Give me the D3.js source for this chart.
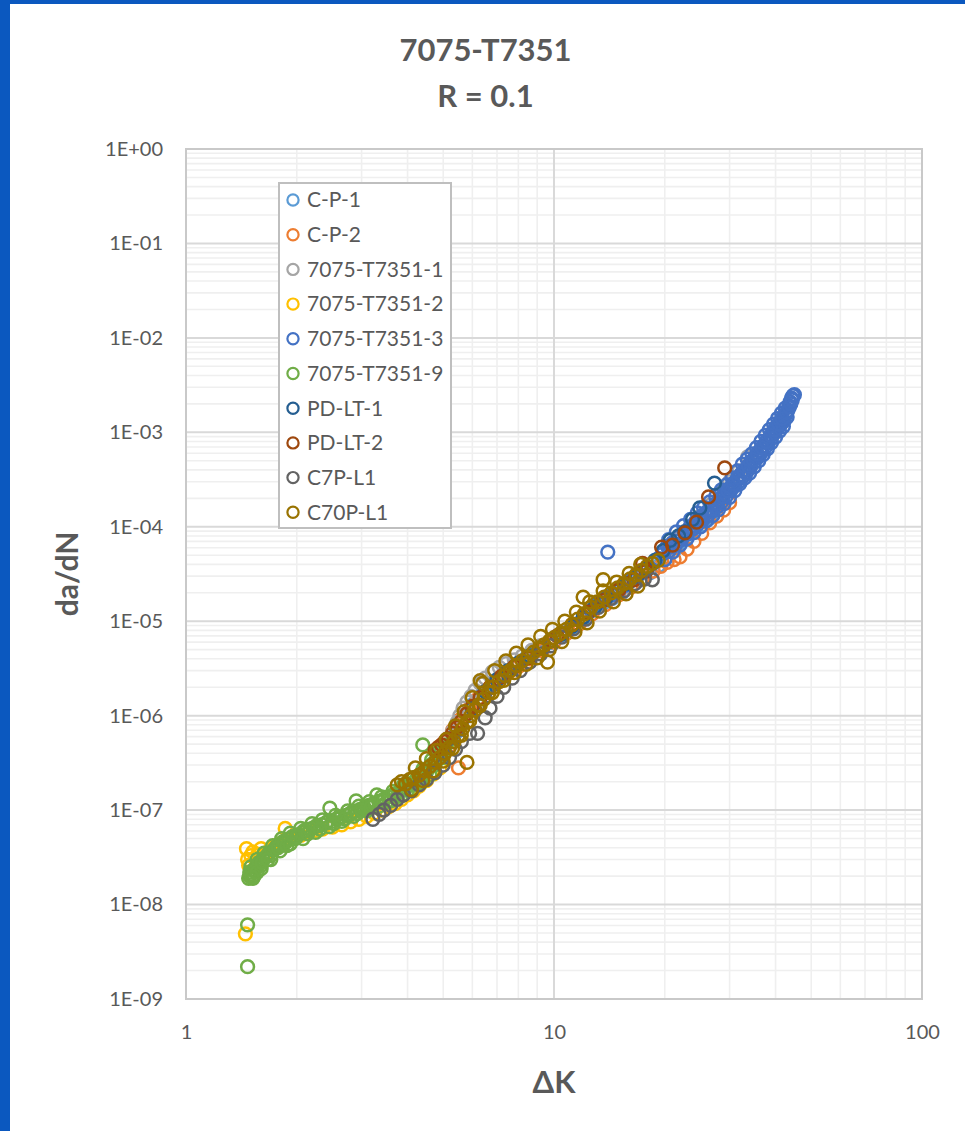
<!DOCTYPE html>
<html>
<head>
<meta charset="utf-8">
<script src="https://cdn.jsdelivr.net/npm/d3@7"></script>
<style>
  body { margin: 0; background: #ffffff; }
  svg { display: block; }
  text { font-family: Lato, "Open Sans", "Liberation Sans", sans-serif; }
</style>
</head>
<body>
<svg id="chart" width="965" height="1131"></svg>
<script>
// ---- Data: crack growth rate da/dN versus stress-intensity range ΔK ----
const seriesNames = ["C-P-1", "C-P-2", "7075-T7351-1", "7075-T7351-2", "7075-T7351-3",
                     "7075-T7351-9", "PD-LT-1", "PD-LT-2", "C7P-L1", "C70P-L1"];
const seriesColors = ["#5B9BD5", "#ED7D31", "#A5A5A5", "#FFC000", "#4472C4",
                      "#70AD47", "#255E91", "#9E480E", "#636363", "#997300"];

// [ΔK, da/dN]
const cp1 = [[5.4,6.5e-7],[5.7,9.5e-7],[6.0,1.3e-6],[6.4,1.7e-6],[6.8,2.2e-6],[7.3,2.8e-6],[7.8,3.4e-6],
  [8.4,4.1e-6],[9.0,4.9e-6],[9.7,5.9e-6],[10.4,7.1e-6],[11.2,8.6e-6],[12.0,1.05e-5],[12.8,1.3e-5],
  [13.6,1.55e-5],[14.4,1.75e-5],[15.3,2.0e-5],[16.2,2.35e-5],[17.2,2.75e-5],[18.2,3.25e-5],[19.3,3.9e-5],
  [20.4,4.8e-5],[21.6,6.0e-5],[22.8,7.3e-5],[24.0,8.8e-5],[25.3,1.05e-4],[26.6,1.25e-4]];

const cp2 = [[5.0,3.8e-7],[5.2,4.8e-7],[5.3,7.0e-7],[5.5,2.8e-7],[5.55,9.0e-7],[5.7,1.0e-6],[5.9,1.2e-6],
  [6.2,1.5e-6],[6.6,1.9e-6],[7.0,2.3e-6],[7.5,2.8e-6],[8.0,3.3e-6],[8.6,4.0e-6],[9.3,4.9e-6],[10.0,6.0e-6],
  [10.8,7.4e-6],[11.7,9.3e-6],[12.7,1.2e-5],[13.8,1.5e-5],[15.0,1.9e-5],[16.2,2.3e-5],[17.4,2.8e-5],
  [18.6,3.4e-5],[19.5,3.8e-5],[20.3,4.2e-5],[21.2,4.5e-5],[22.0,4.8e-5],[23.0,5.8e-5],[24.0,7.0e-5],
  [25.2,8.5e-5],[26.5,1.1e-4],[27.7,1.3e-4],[28.9,1.5e-4],[30.0,1.8e-4]];

const t7351_1 = [[5.3,6.8e-7],[5.45,8.5e-7],[5.55,1.0e-6],[5.66,1.2e-6],[5.8,1.4e-6],[5.95,1.6e-6],
  [6.1,1.85e-6],[6.3,2.2e-6],[6.5,2.5e-6],[6.8,2.9e-6],[7.1,3.25e-6],[7.4,3.55e-6],[7.8,3.9e-6],[8.2,4.3e-6],
  [8.7,4.9e-6],[9.2,5.5e-6],[9.8,6.4e-6],[10.5,7.6e-6],[11.3,9.3e-6],[12.2,1.2e-5],[13.2,1.5e-5],
  [14.3,1.85e-5],[15.5,2.3e-5],[16.8,2.85e-5],[18.0,3.6e-5],[19.3,4.6e-5],[20.6,6.0e-5],[22.0,7.8e-5],
  [23.5,1.0e-4],[25.0,1.3e-4],[26.6,1.7e-4],[28.3,2.3e-4],[30.0,3.0e-4],[31.8,3.9e-4],[33.6,5.5e-4]];

const t7351_2 = [[1.45,4.9e-9],[1.46,3.9e-8],[1.47,3.0e-8],[1.48,2.6e-8],[1.5,3.3e-8],[1.52,3.6e-8],
  [1.55,2.9e-8],[1.58,3.4e-8],[1.6,3.9e-8],[1.65,3.5e-8],[1.7,3.9e-8],[1.75,4.2e-8],[1.8,4.4e-8],
  [1.86,6.4e-8],[1.88,4.8e-8],[1.95,5.1e-8],[2.05,5.4e-8],[2.15,5.8e-8],[2.25,6.1e-8],[2.35,6.3e-8],
  [2.5,6.6e-8],[2.65,7.0e-8],[2.8,7.5e-8],[2.95,8.0e-8],[3.1,8.6e-8],[3.25,9.3e-8],[3.4,1.0e-7],
  [3.55,1.08e-7],[3.7,1.17e-7],[3.85,1.3e-7],[4.0,1.45e-7],[4.15,1.6e-7],[4.3,1.8e-7],[4.5,2.05e-7],
  [4.7,2.4e-7],[4.9,2.8e-7]];

const t7351_3 = [[12.0,1.1e-5],[12.6,1.3e-5],[13.2,1.55e-5],[13.8,1.8e-5],[14.0,5.4e-5],[14.4,1.9e-5],
  [15.0,2.1e-5],[15.6,2.4e-5],[16.2,2.7e-5],[16.8,3.0e-5],[17.4,3.3e-5],[18.0,3.7e-5],[18.6,4.1e-5],
  [19.2,4.6e-5],[19.8,5.2e-5],[20.3,6.2e-5],[20.6,5.6e-5],[21.0,6.8e-5],[21.4,6.4e-5],[21.8,7.8e-5],
  [22.2,7.3e-5],[22.6,8.8e-5],[23.0,8.3e-5],[23.4,9.9e-5],[23.8,9.4e-5],[24.2,1.12e-4],[24.6,1.06e-4],
  [25.0,1.26e-4],[25.4,1.19e-4],[25.8,1.4e-4],[26.2,1.32e-4],[26.6,1.55e-4],[27.0,1.47e-4],[27.4,1.72e-4],
  [27.8,1.63e-4],[28.2,1.95e-4],[28.6,1.85e-4],[29.0,2.2e-4],[29.4,2.1e-4],[29.8,2.5e-4],[30.2,2.4e-4],
  [30.6,2.85e-4],[31.0,2.7e-4],[31.4,3.2e-4],[31.8,3.0e-4],[32.2,3.6e-4],[32.6,3.4e-4],[33.0,4.0e-4],
  [33.4,3.8e-4],[33.8,4.5e-4],[34.2,4.3e-4],[34.6,5.0e-4],[35.0,4.8e-4],[35.4,5.7e-4],[35.8,5.4e-4],
  [36.2,6.4e-4],[36.6,6.1e-4],[37.0,7.2e-4],[37.4,6.8e-4],[37.8,8.0e-4],[38.2,7.7e-4],[38.6,9.0e-4],
  [39.0,8.7e-4],[39.4,1.02e-3],[39.8,1.0e-3],[40.2,1.15e-3],[40.6,1.12e-3],[41.0,1.28e-3],[41.4,1.22e-3],
  [41.8,1.38e-3],[42.2,1.32e-3],[42.6,1.52e-3],[43.0,1.45e-3],[43.2,1.7e-3],[43.5,1.9e-3],[43.8,2.1e-3],
  [44.2,2.3e-3],[44.6,2.45e-3],[45.0,2.5e-3],
  [20.5,7.3e-5],[21.5,8.8e-5],[22.5,1.03e-4],[23.5,1.2e-4],[24.5,1.4e-4],[25.5,1.6e-4],[26.5,1.83e-4],
  [27.5,2.1e-4],[28.5,2.45e-4],[29.5,2.8e-4],[30.5,3.3e-4],[31.5,3.9e-4],[32.5,4.6e-4],[33.5,5.2e-4],
  [34.5,5.9e-4],[35.5,6.9e-4],[36.5,8.0e-4],[37.5,9.3e-4],[38.5,1.07e-3],[39.5,1.22e-3],[40.5,1.4e-3],
  [41.5,1.6e-3],[42.5,1.8e-3],
  [20.0,4.5e-5],[21.0,5.4e-5],[22.0,6.4e-5],[23.0,7.5e-5],[24.0,8.7e-5],[25.0,1.0e-4],[26.0,1.16e-4],
  [27.0,1.31e-4],[28.0,1.52e-4],[29.0,1.76e-4],[30.0,2.05e-4],[31.0,2.42e-4],[32.0,2.87e-4],[33.0,3.3e-4],
  [34.0,3.7e-4],[35.0,4.3e-4],[36.0,5.0e-4],[37.0,5.8e-4],[38.0,6.7e-4],[39.0,7.8e-4],[40.0,8.9e-4],
  [41.0,1.03e-3],[42.0,1.15e-3],
  [20.8,6.1e-5],[21.7,7.1e-5],[22.8,8.6e-5],[23.7,9.9e-5],[24.8,1.18e-4],[25.7,1.36e-4],[26.8,1.55e-4],
  [27.7,1.78e-4],[28.8,2.08e-4],[29.7,2.4e-4],[30.8,2.85e-4],[31.7,3.35e-4],[32.8,3.95e-4],[33.7,4.4e-4],
  [34.8,5.1e-4],[35.7,5.9e-4],[36.8,6.9e-4],[37.7,8.0e-4],[38.8,9.3e-4],[39.7,1.06e-3],[40.8,1.23e-3],
  [41.7,1.4e-3],[42.8,1.62e-3],[43.6,1.85e-3],[44.0,2.0e-3],[44.4,2.2e-3]];

const t7351_9 = [[1.47,2.2e-9],[1.47,6.1e-9],
  [1.48,1.9e-8],[1.49,2.0e-8],[1.5,2.1e-8],[1.52,2.3e-8],[1.53,2.0e-8],[1.55,2.5e-8],[1.57,2.7e-8],
  [1.6,2.6e-8],[1.62,3.0e-8],[1.65,3.2e-8],[1.68,3.5e-8],[1.7,3.3e-8],[1.73,3.8e-8],[1.76,4.1e-8],
  [1.8,4.3e-8],[1.83,4.6e-8],[1.86,4.5e-8],[1.9,4.9e-8],[1.94,5.2e-8],[1.98,5.0e-8],[2.02,5.5e-8],
  [2.07,5.8e-8],[2.12,6.0e-8],[2.17,6.3e-8],[2.22,6.5e-8],[2.28,6.8e-8],[2.34,7.0e-8],[2.4,7.3e-8],
  [2.46,1.05e-7],[2.5,7.6e-8],[2.57,8.0e-8],[2.64,8.4e-8],[2.72,8.8e-8],[2.8,9.3e-8],[2.9,1.25e-7],
  [2.88,9.7e-8],[2.97,1.02e-7],[3.05,1.07e-7],[3.14,1.12e-7],[3.24,1.18e-7],[3.3,1.45e-7],[3.34,1.24e-7],
  [3.45,1.31e-7],[3.56,1.39e-7],[3.68,1.48e-7],[3.8,1.58e-7],[3.92,1.7e-7],[4.05,1.84e-7],[4.18,2.0e-7],
  [4.3,2.2e-7],[4.4,4.9e-7],[4.42,2.45e-7],[4.55,2.75e-7],[4.68,3.1e-7],[4.8,3.5e-7],[4.92,4.0e-7],
  [5.02,4.5e-7],
  [1.5,2.5e-8],[1.56,3.0e-8],[1.63,3.5e-8],[1.72,4.2e-8],[1.82,5.0e-8],[1.92,5.7e-8],[2.05,6.4e-8],
  [2.2,7.2e-8],[2.35,7.9e-8],[2.55,8.8e-8],[2.75,9.8e-8],[2.95,1.1e-7],[3.15,1.23e-7],[3.4,1.38e-7],
  [3.65,1.58e-7],[3.9,1.85e-7],[4.15,2.2e-7],[4.4,2.7e-7],[4.65,3.4e-7],[4.85,4.1e-7],[5.1,4.9e-7],
  [1.52,1.9e-8],[1.6,2.4e-8],[1.7,3.0e-8],[1.8,3.7e-8],[1.92,4.4e-8],[2.08,5.0e-8],[2.25,5.8e-8],
  [2.45,6.7e-8],[2.65,7.6e-8],[2.85,8.6e-8],[3.1,9.8e-8],[3.35,1.1e-7],[3.6,1.25e-7],[3.85,1.42e-7],
  [4.1,1.65e-7],[4.35,1.95e-7],[4.6,2.35e-7],
  [1.54,2.3e-8],[1.58,2.8e-8],[1.66,3.3e-8],[1.75,3.9e-8],[1.85,4.7e-8],[1.96,5.3e-8],[2.1,6.1e-8],
  [2.27,6.9e-8],[2.42,7.5e-8],[2.6,8.3e-8],[2.8,9.1e-8],[3.0,1.0e-7],[3.2,1.13e-7],[3.45,1.27e-7],
  [3.7,1.45e-7],[3.95,1.7e-7],[4.2,2.05e-7],[4.5,2.5e-7],[4.75,3.0e-7],[4.98,3.6e-7],
  [1.49,2.2e-8],[1.51,1.95e-8],[1.56,2.2e-8],[1.61,2.8e-8],[1.67,3.0e-8],[1.78,4.0e-8],[1.88,4.2e-8],
  [2.0,5.2e-8],[2.14,5.6e-8],[2.31,6.3e-8],[2.52,7.2e-8],[2.7,8.1e-8],[2.92,9.2e-8],[3.18,1.06e-7],
  [3.5,1.21e-7],[3.75,1.39e-7],[4.0,1.62e-7],[4.25,1.88e-7]];

const pdlt1 = [[6.0,1.2e-6],[6.5,1.8e-6],[7.0,2.4e-6],[7.5,3.0e-6],[8.0,3.6e-6],[8.6,4.3e-6],[9.2,5.2e-6],
  [9.8,6.2e-6],[10.5,7.3e-6],[11.2,8.8e-6],[12.0,1.1e-5],[12.9,1.4e-5],[13.8,1.7e-5],[14.8,2.1e-5],
  [15.8,2.5e-5],[16.8,3.0e-5],[17.8,3.6e-5],[18.8,4.4e-5],[19.8,5.6e-5],[20.7,7.2e-5],[21.8,8.0e-5],
  [22.7,8.8e-5],[23.8,1.2e-4],[24.9,1.58e-4],[27.3,2.9e-4]];

const pdlt2 = [[4.75,4.3e-7],[4.85,4.6e-7],[4.95,4.9e-7],[5.05,5.3e-7],[5.15,5.7e-7],[5.3,6.5e-7],
  [5.45,7.5e-7],[5.6,8.7e-7],[5.8,1.05e-6],[6.0,1.25e-6],[6.3,1.55e-6],[6.7,2.0e-6],[7.2,2.6e-6],
  [7.8,3.3e-6],[8.5,4.1e-6],[9.3,5.2e-6],[10.2,7.0e-6],[11.2,9.2e-6],[12.4,1.25e-5],[13.6,1.65e-5],
  [15.0,2.15e-5],[16.5,2.75e-5],[17.4,4.1e-5],[17.8,3.4e-5],[19.6,6.1e-5],[21.0,6.4e-5],[22.7,8.6e-5],
  [24.4,1.12e-4],[26.3,2.07e-4],[29.1,4.2e-4]];

const c7pL1 = [[3.22,8.0e-8],[3.35,9.0e-8],[3.45,1.0e-7],[3.6,1.12e-7],[3.75,1.3e-7],[3.9,1.45e-7],
  [4.1,1.6e-7],[4.3,1.85e-7],[4.5,2.1e-7],[4.75,2.5e-7],[5.0,3.0e-7],[5.2,3.6e-7],[5.4,4.4e-7],
  [5.6,5.3e-7],[5.9,6.5e-7],[6.2,6.5e-7],[6.5,9.5e-7],[6.7,1.2e-6],[7.0,1.6e-6],[7.3,2.0e-6],[7.7,2.5e-6],
  [8.1,3.0e-6],[8.6,3.7e-6],[9.2,4.5e-6],[9.8,5.5e-6],[10.5,6.8e-6],[11.3,8.3e-6],[12.2,1.05e-5],
  [13.2,1.4e-5],[14.3,1.75e-5],[15.5,2.1e-5],[16.6,2.5e-5],[17.6,2.8e-5],[18.5,2.75e-5]];

const c70pL1 = [[3.75,1.85e-7],[3.85,2.0e-7],[3.95,1.9e-7],[4.05,2.1e-7],[4.15,2.2e-7],[4.3,2.35e-7],
  [4.45,2.6e-7],[4.6,2.9e-7],[4.75,3.2e-7],[4.9,3.6e-7],[5.05,4.0e-7],[5.2,4.6e-7],[5.35,5.3e-7],
  [5.5,6.2e-7],[5.65,7.3e-7],[5.8,3.2e-7],[5.8,8.5e-7],[5.95,1.0e-6],[6.1,1.15e-6],[6.3,2.35e-6],
  [6.25,1.3e-6],[6.45,1.5e-6],[6.65,1.75e-6],[6.85,2.0e-6],[7.1,2.3e-6],[7.35,2.65e-6],[7.6,3.0e-6],
  [7.9,3.4e-6],[8.2,3.8e-6],[8.5,4.2e-6],[8.8,4.7e-6],[9.1,5.1e-6],[9.4,5.6e-6],[9.6,3.7e-6],[9.7,6.1e-6],
  [10.0,6.7e-6],[10.4,7.4e-6],[10.8,8.2e-6],[11.2,9.2e-6],[11.6,1.05e-5],[12.0,1.8e-5],[12.1,1.2e-5],
  [12.6,1.4e-5],[13.1,1.6e-5],[13.6,2.75e-5],[13.7,1.8e-5],[14.3,2.0e-5],[14.9,2.25e-5],[15.5,2.5e-5],
  [16.1,2.8e-5],[16.7,3.1e-5],[17.3,3.45e-5],[17.9,3.8e-5],[18.5,4.1e-5],[19.2,4.4e-5],
  [4.2,2.8e-7],[4.5,3.5e-7],[4.8,4.3e-7],[5.1,5.6e-7],[5.4,7.8e-7],[5.7,1.1e-6],[6.0,1.55e-6],
  [6.4,2.2e-6],[6.9,3.0e-6],[7.4,3.8e-6],[7.9,4.6e-6],[8.5,5.6e-6],[9.2,6.9e-6],[9.9,8.2e-6],
  [10.7,1.0e-5],[11.5,1.25e-5],[12.5,1.6e-5],[13.6,2.1e-5],[14.8,2.6e-5],[16.0,3.2e-5],[17.2,4.0e-5],
  [4.1,1.65e-7],[4.4,2.05e-7],[4.7,2.6e-7],[5.0,3.3e-7],[5.3,4.5e-7],[5.6,6.2e-7],[5.9,8.8e-7],
  [6.3,1.28e-6],[6.8,1.76e-6],[7.3,2.36e-6],[7.8,2.85e-6],[8.4,3.5e-6],[9.0,4.1e-6],[9.7,5.0e-6],
  [10.5,6.1e-6],[11.4,7.7e-6],[12.3,9.6e-6],[13.3,1.28e-5],[14.5,1.6e-5],[15.7,1.95e-5],[16.9,2.35e-5]];

const seriesData = [cp1, cp2, t7351_1, t7351_2, t7351_3, t7351_9, pdlt1, pdlt2, c7pL1, c70pL1];

const yTickValues = [1, 1e-1, 1e-2, 1e-3, 1e-4, 1e-5, 1e-6, 1e-7, 1e-8, 1e-9];
const yTickLabels = ["1E+00", "1E-01", "1E-02", "1E-03", "1E-04", "1E-05", "1E-06", "1E-07", "1E-08", "1E-09"];
const xTickValues = [1, 10, 100];
const xTickLabels = ["1", "10", "100"];

const titleLines = ["7075-T7351", "R = 0.1"];
const xTitle = "ΔK";
const yTitle = "da/dN";

// ---- Layout ----
const W = 965, H = 1131;
const plot = { left: 186, right: 922, top: 149, bottom: 999 };
const textColor = "#595959";

const svg = d3.select("#chart");

// slide background with the white chart card on top
svg.append("rect").attr("width", W).attr("height", H).attr("fill", "#0b58bf");
svg.append("rect").attr("x", 10).attr("y", 4).attr("width", W - 10).attr("height", H - 4).attr("fill", "#ffffff");

const x = d3.scaleLog().domain([1, 100]).range([plot.left, plot.right]);
const y = d3.scaleLog().domain([1e-9, 1]).range([plot.bottom, plot.top]);

const isDecade = v => Math.abs(Math.log10(v) - Math.round(Math.log10(v))) < 1e-9;

// minor then major gridlines
const grid = svg.append("g");
const xAll = x.ticks(), yAll = y.ticks();
grid.selectAll("line.xminor").data(xAll.filter(v => !isDecade(v))).join("line")
  .attr("x1", d => x(d)).attr("x2", d => x(d)).attr("y1", plot.top).attr("y2", plot.bottom)
  .attr("stroke", "#efefef").attr("stroke-width", 1.6);
grid.selectAll("line.yminor").data(yAll.filter(v => !isDecade(v))).join("line")
  .attr("y1", d => y(d)).attr("y2", d => y(d)).attr("x1", plot.left).attr("x2", plot.right)
  .attr("stroke", "#efefef").attr("stroke-width", 1.6);
grid.selectAll("line.xmajor").data(xAll.filter(isDecade)).join("line")
  .attr("x1", d => x(d)).attr("x2", d => x(d)).attr("y1", plot.top).attr("y2", plot.bottom)
  .attr("stroke", "#d9d9d9").attr("stroke-width", 2);
grid.selectAll("line.ymajor").data(yAll.filter(isDecade)).join("line")
  .attr("y1", d => y(d)).attr("y2", d => y(d)).attr("x1", plot.left).attr("x2", plot.right)
  .attr("stroke", "#d9d9d9").attr("stroke-width", 2);

// plot frame
svg.append("rect")
  .attr("x", plot.left).attr("y", plot.top)
  .attr("width", plot.right - plot.left).attr("height", plot.bottom - plot.top)
  .attr("fill", "none").attr("stroke", "#c9c9c9").attr("stroke-width", 2);

// axes (labels only)
const yAxis = svg.append("g").attr("transform", `translate(${plot.left},0)`)
  .call(d3.axisLeft(y).tickValues(yTickValues).tickFormat((d, i) => yTickLabels[i]).tickSize(0).tickPadding(23));
const xAxis = svg.append("g").attr("transform", `translate(0,${plot.bottom})`)
  .call(d3.axisBottom(x).tickValues(xTickValues).tickFormat((d, i) => xTickLabels[i]).tickSize(0).tickPadding(26));
[yAxis, xAxis].forEach(g => {
  g.select(".domain").remove();
  g.selectAll("text").attr("fill", textColor).style("font-size", "20px").style("font-family", "Lato, sans-serif");
});

// scatter markers: hollow circles
const markers = svg.append("g");
seriesData.forEach((pts, i) => {
  markers.append("g").selectAll("circle").data(pts).join("circle")
    .attr("cx", d => x(d[0])).attr("cy", d => y(d[1])).attr("r", 6.4)
    .attr("fill", "none").attr("stroke", seriesColors[i]).attr("stroke-width", 2.5);
});

// titles
svg.append("g").selectAll("text").data(titleLines).join("text")
  .attr("x", 485.5).attr("y", (d, i) => 61 + i * 46)
  .attr("text-anchor", "middle").attr("fill", textColor)
  .style("font-size", "31px").style("font-weight", "bold")
  .text(d => d);

svg.append("text").attr("x", 554).attr("y", 1093).attr("text-anchor", "middle")
  .attr("fill", textColor).style("font-size", "31px").style("font-weight", "bold").text(xTitle);

svg.append("text").attr("transform", `translate(78,${(plot.top + plot.bottom) / 2}) rotate(-90)`)
  .attr("text-anchor", "middle").attr("fill", textColor)
  .style("font-size", "30px").style("font-weight", "bold").text(yTitle);

// legend
const legend = svg.append("g").attr("transform", "translate(279,183)");
legend.append("rect").attr("width", 172).attr("height", 345)
  .attr("fill", "#ffffff").attr("stroke", "#bfbfbf").attr("stroke-width", 2);
const item = legend.selectAll("g.item").data(seriesNames).join("g")
  .attr("transform", (d, i) => `translate(0,${17 + i * 34.7})`);
item.append("circle").attr("cx", 14).attr("cy", 0).attr("r", 5.6)
  .attr("fill", "none").attr("stroke-width", 2.2).attr("stroke", (d, i) => seriesColors[i]);
item.append("text").attr("x", 28).attr("y", 0).attr("dy", "0.35em")
  .attr("fill", textColor).style("font-size", "21px").text(d => d);
</script>
</body>
</html>
